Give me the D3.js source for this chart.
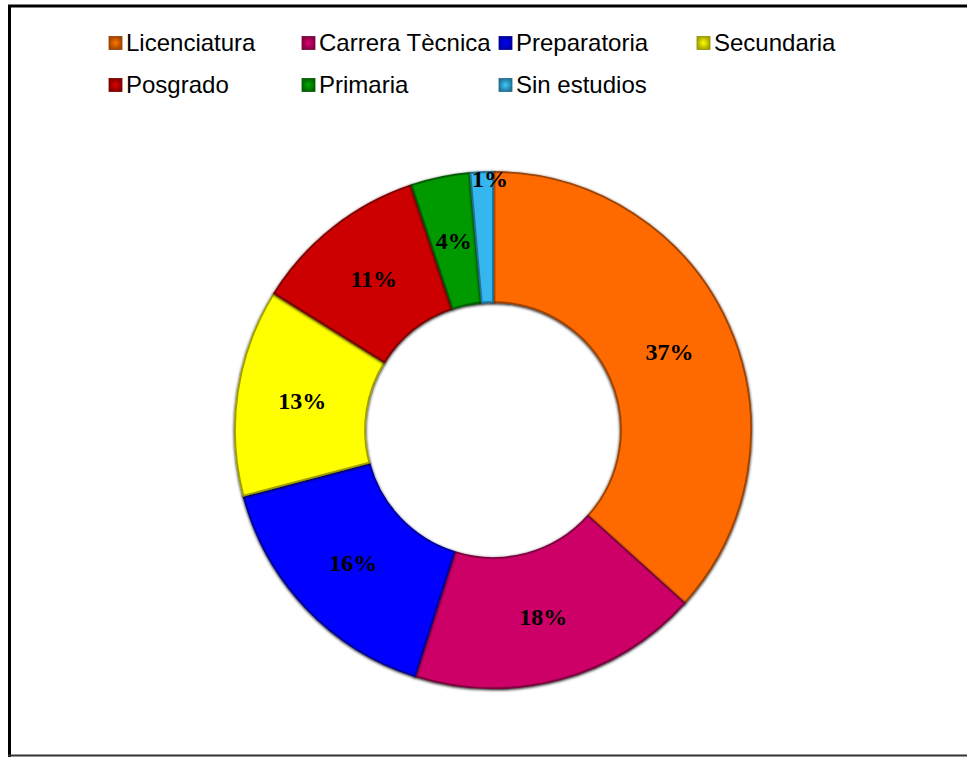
<!DOCTYPE html>
<html>
<head>
<meta charset="utf-8">
<script src="https://cdn.jsdelivr.net/npm/d3@7"></script>
<style>
  html, body { margin: 0; padding: 0; background: #fff; }
  svg { display: block; }
</style>
</head>
<body>
<div id="chart"></div>
<script>
// Datos del gráfico
const categorias = ['Licenciatura', 'Carrera Tècnica', 'Preparatoria', 'Secundaria', 'Posgrado', 'Primaria', 'Sin estudios'];
const porcentajes = [36.7, 18.2, 16.0, 13.0, 11.0, 3.7, 1.4];
const etiquetas = ['37%', '18%', '16%', '13%', '11%', '4%', '1%'];
const colores = ['#ff6b00', '#cc0066', '#0000ff', '#ffff00', '#cc0000', '#009900', '#35b6ee'];

const width = 967, height = 757;
const cx = 493, cy = 430;
const rOuter = 258, rInner = 128;

const svg = d3.select('#chart')
  .append('svg')
  .attr('width', width)
  .attr('height', height);

const defs = svg.append('defs');

// sombra suave para los sectores
const sombra = defs.append('filter')
  .attr('id', 'sombra')
  .attr('x', '-10%').attr('y', '-10%')
  .attr('width', '120%').attr('height', '120%');
sombra.append('feGaussianBlur').attr('in', 'SourceAlpha').attr('stdDeviation', 1.5).attr('result', 'b');
sombra.append('feOffset').attr('in', 'b').attr('dx', 0).attr('dy', 1).attr('result', 'o');
const merge = sombra.append('feMerge');
merge.append('feMergeNode').attr('in', 'o');
merge.append('feMergeNode').attr('in', 'SourceGraphic');

// marco
svg.append('line').attr('x1', 8).attr('x2', width).attr('y1', 6).attr('y2', 6)
  .attr('stroke', '#000').attr('stroke-width', 3);
svg.append('line').attr('x1', 9.5).attr('x2', 9.5).attr('y1', 5).attr('y2', 757)
  .attr('stroke', '#000').attr('stroke-width', 3);
svg.append('line').attr('x1', 8).attr('x2', width).attr('y1', 755.5).attr('y2', 755.5)
  .attr('stroke', '#333').attr('stroke-width', 2);

// Leyenda
const colX = [109, 302, 499, 697];
const filaY = [43, 85];
const leyenda = svg.append('g').attr('class', 'leyenda');
categorias.forEach((c, i) => {
  const fila = i < 4 ? 0 : 1;
  const col = i < 4 ? i : i - 4;
  const x = colX[col], y = filaY[fila];
  const base = d3.color(colores[i]);
  const grad = defs.append('radialGradient').attr('id', 'ley' + i);
  grad.append('stop').attr('offset', '0%').attr('stop-color', base.brighter(0.3));
  grad.append('stop').attr('offset', '100%').attr('stop-color', base.darker(1.2));
  const g = leyenda.append('g').attr('transform', `translate(${x},${y})`);
  g.append('rect')
    .attr('x', 0).attr('y', -6.5).attr('width', 13).attr('height', 13)
    .attr('fill', `url(#ley${i})`)
    .attr('stroke', base.darker(1.6)).attr('stroke-width', 0.8);
  g.append('text')
    .attr('x', 17).attr('y', 0)
    .attr('dy', '0.35em')
    .attr('font-family', 'Liberation Sans, Arial, sans-serif')
    .attr('font-size', 24)
    .attr('fill', '#000')
    .text(c);
});

// Dona
const pie = d3.pie().sort(null).value(d => d);
const arcos = pie(porcentajes);
const arc = d3.arc().innerRadius(rInner).outerRadius(rOuter);

const dona = svg.append('g').attr('transform', `translate(${cx},${cy})`);

dona.selectAll('path')
  .data(arcos)
  .enter()
  .append('path')
  .attr('d', arc)
  .attr('fill', (d, i) => colores[i])
  .attr('stroke', (d, i) => d3.color(colores[i]).darker(1.3))
  .attr('stroke-width', 1.8)
  .attr('stroke-linejoin', 'round')
  .attr('filter', 'url(#sombra)');

// Etiquetas de porcentaje
const arcEtiqueta = d3.arc().innerRadius((rInner + rOuter) / 2).outerRadius((rInner + rOuter) / 2);
const arcExterior = d3.arc().innerRadius(rOuter - 6).outerRadius(rOuter - 6);

dona.selectAll('text.pct')
  .data(arcos)
  .enter()
  .append('text')
  .attr('class', 'pct')
  .attr('transform', d => {
    const p = d.data < 2 ? arcExterior.centroid(d) : arcEtiqueta.centroid(d);
    if (d.data < 2) p[0] += 8;
    return `translate(${p[0]},${p[1]})`;
  })
  .attr('text-anchor', 'middle')
  .attr('dy', '0.35em')
  .attr('font-family', 'Liberation Serif, DejaVu Serif, serif')
  .attr('font-weight', 'bold')
  .attr('font-size', 24)
  .attr('fill', '#000')
  .text((d, i) => etiquetas[i]);
</script>
</body>
</html>
